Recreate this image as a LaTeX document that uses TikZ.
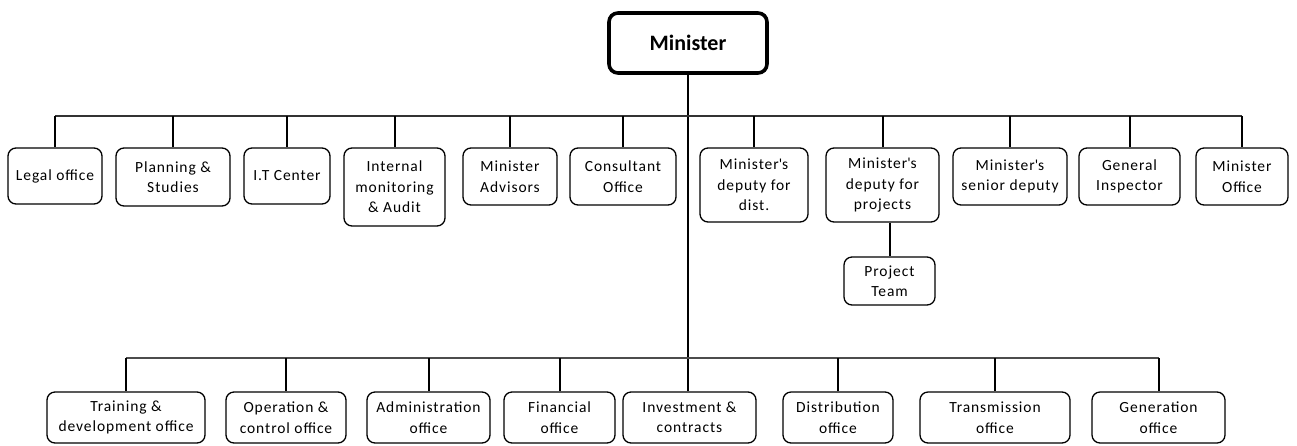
\documentclass[tikz,border=0pt]{standalone}
\usepackage{fontspec}
\setmainfont[LetterSpace=6]{Carlito}
\newfontfamily\boldfam[LetterSpace=0]{Carlito}
\newcommand{\apo}{\textquotesingle}
\begin{document}
\begin{tikzpicture}[x=1pt,y=-1pt,
  box/.style={draw=black, line width=1.3pt, rounded corners=8pt, align=center,
    inner sep=2pt, font=\fontsize{15.5}{20.5}\selectfont},
  conn/.style={line width=2pt, black},
  busline/.style={line width=1.6pt, black!80},
  bigbox/.style={draw=black, line width=3.6pt, rounded corners=9pt, align=center,
    font=\boldfam\bfseries\fontsize{22}{26}\selectfont}
]
\useasboundingbox (0,0) rectangle (1297,445);

\node[bigbox, minimum width=158, minimum height=60] (min) at (688,43) {Minister};

% top row
\node[box, minimum width=94, minimum height=56] (legal) at (55,176) {Legal office};
\node[box, minimum width=114, minimum height=58] (plan) at (173,177) {Planning \&\\Studies};
\node[box, minimum width=86, minimum height=56] (itc) at (287,176) {I.T Center};
\node[box, minimum width=101, minimum height=78] (audit) at (394.5,187) {Internal\\monitoring\\\& Audit};
\node[box, minimum width=94, minimum height=57] (adv) at (510,176.5) {Minister\\Advisors};
\node[box, minimum width=106, minimum height=57] (cons) at (623,176.5) {Consultant\\Office};
\node[box, minimum width=108, minimum height=74] (depdist) at (754,185) {Minister\apo s\\deputy for\\dist.};
\node[box, minimum width=113, minimum height=74] (depproj) at (882.5,185) {Minister\apo s\\deputy for\\projects};
\node[box, minimum width=114, minimum height=57] (senior) at (1010,176.5) {Minister\apo s\\senior deputy};
\node[box, minimum width=101, minimum height=57] (insp) at (1129.5,176.5) {General\\Inspector};
\node[box, minimum width=92, minimum height=57] (minoff) at (1242,176.5) {Minister\\Office};
\node[box, minimum width=91, minimum height=48] (team) at (889.5,281) {Project\\Team};

% bottom row
\node[box, minimum width=158, minimum height=51] (train) at (126,417.5) {Training \&\\development office};
\node[box, minimum width=120, minimum height=51] (oper) at (286,417.5) {Operation \&\\control office};
\node[box, minimum width=123, minimum height=51] (admin) at (428.5,417.5) {Administration\\office};
\node[box, minimum width=111, minimum height=51] (fin) at (559.5,417.5) {Financial\\office};
\node[box, minimum width=133, minimum height=51] (inv) at (689.5,417.5) {Investment \&\\contracts};
\node[box, minimum width=110, minimum height=51] (dist) at (838,417.5) {Distribution\\office};
\node[box, minimum width=150, minimum height=51] (trans) at (995,417.5) {Transmission\\office};
\node[box, minimum width=133, minimum height=51] (gen) at (1158.5,417.5) {Generation\\office};

\coordinate (topbus) at (688,116);
\coordinate (botbus) at (688,358);

% main trunk
\draw[conn] (min.south) -- (min.south |- inv.north);

% top bus
\draw[busline] (legal.north |- topbus) -- (minoff.north |- topbus);
\foreach \n in {legal,plan,itc,audit,adv,cons,depdist,depproj,senior,insp,minoff}
  \draw[conn] (\n.north |- topbus) -- (\n.north);
\draw[conn] (depproj.south -| team.north) -- (team.north);

% bottom bus
\draw[busline, black!70] (train.north |- botbus) -- (gen.north |- botbus);
\foreach \n in {train,oper,admin,fin,dist,trans,gen}
  \draw[conn] (\n.north |- botbus) -- (\n.north);
\end{tikzpicture}
\end{document}
